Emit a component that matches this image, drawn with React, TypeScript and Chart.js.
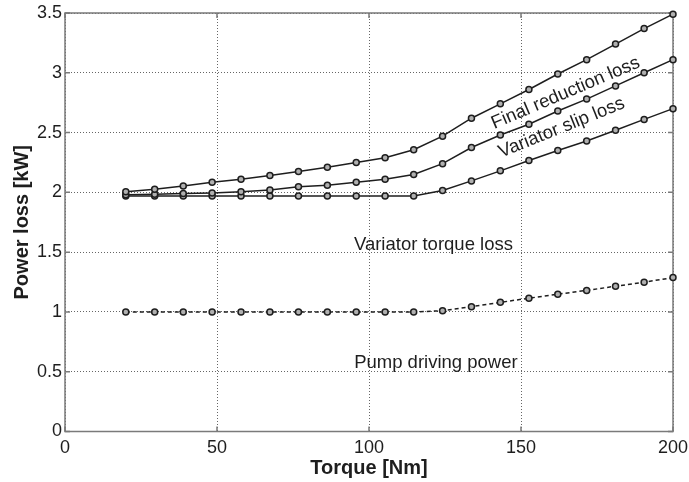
import { useEffect, useRef } from "react";
import { Chart, registerables } from "chart.js";

Chart.register(...registerables);

// Torque operating points [Nm]
const torque = [20, 29.5, 38.9, 48.4, 57.9, 67.4, 76.8, 86.3, 95.8, 105.3, 114.7, 124.2, 133.7, 143.2, 152.6, 162.1, 171.6, 181.1, 190.5, 200];

// Cumulative power loss [kW]
const finalReductionLoss = [2.005, 2.027, 2.054, 2.085, 2.11, 2.14, 2.174, 2.21, 2.25, 2.29, 2.356, 2.47, 2.62, 2.74, 2.86, 2.99, 3.11, 3.24, 3.37, 3.49];
const variatorSlipLoss = [1.98, 1.985, 1.99, 1.995, 2.005, 2.02, 2.046, 2.06, 2.085, 2.11, 2.15, 2.24, 2.375, 2.48, 2.57, 2.68, 2.78, 2.89, 3.0, 3.11];
const variatorTorqueLoss = [1.97, 1.97, 1.97, 1.97, 1.97, 1.97, 1.97, 1.97, 1.97, 1.97, 1.97, 2.015, 2.096, 2.18, 2.266, 2.35, 2.43, 2.52, 2.61, 2.7];
const pumpDrivingPower = [1.0, 1.0, 1.0, 1.0, 1.0, 1.0, 1.0, 1.0, 1.0, 1.0, 1.0, 1.01, 1.044, 1.08, 1.115, 1.148, 1.18, 1.215, 1.249, 1.287];

// Axis ticks
const xTicks = [0, 50, 100, 150, 200];
const yTicks = [0, 0.5, 1, 1.5, 2, 2.5, 3, 3.5];

// In-plot curve labels: text, anchor in data units, rotation in degrees
const curveLabels = [
  { text: "Final reduction loss", x: 164.7, y: 2.83, angle: -23 },
  { text: "Variator slip loss", x: 163.4, y: 2.54, angle: -22 },
  { text: "Variator torque loss", x: 121.2, y: 1.56, angle: 0 },
  { text: "Pump driving power", x: 122, y: 0.573, angle: 0 },
];

const FONT = "'Liberation Sans', Arial, Helvetica, sans-serif";
const INK = "#1e1e1e";

const toPoints = (ys: number[]) => torque.map((x, i) => ({ x, y: ys[i] }));

const lineStyle = (dash: number[]) => ({
  borderColor: INK,
  borderWidth: 1.5,
  borderDash: dash,
  pointRadius: 3,
  pointBorderWidth: 1.5,
  pointBackgroundColor: "#b0b0b0",
  pointBorderColor: INK,
  tension: 0,
  fill: false,
  clip: false as const,
});

const frame = {
  id: "frame",
  beforeDatasetsDraw(chart: any) {
    const { ctx, chartArea: a, scales } = chart;
    ctx.save();
    ctx.strokeStyle = "#7a7a7a";
    ctx.lineWidth = 1.5;
    ctx.strokeRect(a.left, a.top, a.right - a.left, a.bottom - a.top);
    // inward tick marks on all four sides
    ctx.beginPath();
    const t = 5;
    for (const v of xTicks) {
      const px = scales.x.getPixelForValue(v);
      ctx.moveTo(px, a.bottom);
      ctx.lineTo(px, a.bottom - t);
      ctx.moveTo(px, a.top);
      ctx.lineTo(px, a.top + t);
    }
    for (const v of yTicks) {
      const py = scales.y.getPixelForValue(v);
      ctx.moveTo(a.left, py);
      ctx.lineTo(a.left + t, py);
      ctx.moveTo(a.right, py);
      ctx.lineTo(a.right - t, py);
    }
    ctx.stroke();
    ctx.restore();
  },
};

const labelsPlugin = {
  id: "curveLabels",
  afterDatasetsDraw(chart: any) {
    const { ctx, scales } = chart;
    ctx.save();
    ctx.fillStyle = INK;
    ctx.font = `18.5px ${FONT}`;
    ctx.textAlign = "center";
    ctx.textBaseline = "middle";
    for (const l of curveLabels) {
      const px = scales.x.getPixelForValue(l.x);
      const py = scales.y.getPixelForValue(l.y);
      ctx.save();
      ctx.translate(px, py);
      ctx.rotate((l.angle * Math.PI) / 180);
      ctx.fillText(l.text, 0, 0);
      ctx.restore();
    }
    ctx.restore();
  },
};

export default function App() {
  const ref = useRef<HTMLCanvasElement | null>(null);

  useEffect(() => {
    if (!ref.current) return;
    const chart = new Chart(ref.current, {
      type: "line",
      data: {
        datasets: [
          { label: "Final reduction loss", data: toPoints(finalReductionLoss), ...lineStyle([]) },
          { label: "Variator slip loss", data: toPoints(variatorSlipLoss), ...lineStyle([]) },
          { label: "Variator torque loss", data: toPoints(variatorTorqueLoss), ...lineStyle([]) },
          { label: "Pump driving power", data: toPoints(pumpDrivingPower), ...lineStyle([4, 3]) },
        ],
      },
      options: {
        animation: false,
        responsive: false,
        devicePixelRatio: 1,
        layout: { padding: { top: 13, right: 16, left: 0, bottom: 0 } },
        plugins: { legend: { display: false }, tooltip: { enabled: false } },
        scales: {
          x: {
            type: "linear",
            min: 0,
            max: 200,
            afterBuildTicks: (s: any) => {
              s.ticks = xTicks.map((v) => ({ value: v }));
            },
            afterFit: (s: any) => {
              s.height = 50.5;
              s.paddingLeft = 0;
              s.paddingRight = 0;
            },
            grid: { color: "#666", lineWidth: 1, drawTicks: false },
            border: { display: false, dash: [1, 2] },
            ticks: { color: INK, font: { family: FONT, size: 18 }, padding: 6, maxRotation: 0 },
            title: {
              display: true,
              text: "Torque [Nm]",
              color: INK,
              font: { family: FONT, size: 20, weight: "bold" },
              padding: { top: 0, bottom: 2 },
            },
          },
          y: {
            type: "linear",
            min: 0,
            max: 3.5,
            afterBuildTicks: (s: any) => {
              s.ticks = yTicks.map((v) => ({ value: v }));
            },
            afterFit: (s: any) => {
              s.width = 65;
              s.paddingTop = 0;
              s.paddingBottom = 0;
            },
            grid: { color: "#666", lineWidth: 1, drawTicks: false },
            border: { display: false, dash: [1, 2] },
            ticks: {
              color: INK,
              font: { family: FONT, size: 18 },
              padding: 3,
              callback: (v: any) => String(v),
            },
            title: {
              display: true,
              text: "Power loss [kW]",
              color: INK,
              font: { family: FONT, size: 20, weight: "bold" },
              padding: { top: 10, bottom: 0 },
            },
          },
        },
      },
      plugins: [frame, labelsPlugin],
    });
    return () => chart.destroy();
  }, []);

  return (
    <div style={{ position: "fixed", left: 0, top: 0, width: 689, height: 482, background: "#fff" }}>
      <canvas ref={ref} width={689} height={482} style={{ width: 689, height: 482 }} />
    </div>
  );
}
